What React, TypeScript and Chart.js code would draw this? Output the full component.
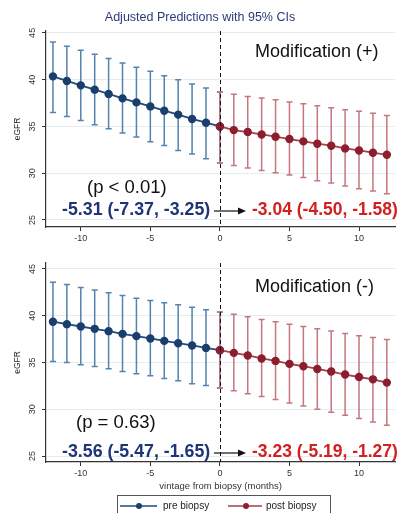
import React, { useEffect, useRef } from "react";
import { Chart, registerables } from "chart.js";

Chart.register(...registerables);

// ---------- data ----------
const preMonths = [-12, -11, -10, -9, -8, -7, -6, -5, -4, -3, -2, -1, 0];
const postMonths = [0, 1, 2, 3, 4, 5, 6, 7, 8, 9, 10, 11, 12];
const xTicks = [-10, -5, 0, 5, 10];
const yTicks = [25, 30, 35, 40, 45];

// Modification (+)
const topPre = [40.35, 39.86, 39.39, 38.93, 38.47, 38.0, 37.57, 37.14, 36.68, 36.26, 35.8, 35.4, 35.0];
const topPreLo = [36.5, 36.07, 35.64, 35.18, 34.75, 34.29, 33.87, 33.36, 32.97, 32.43, 32.05, 31.55, 31.09];
const topPreHi = [44.03, 43.56, 43.13, 42.71, 42.25, 41.79, 41.32, 40.89, 40.43, 40.0, 39.54, 39.11, 38.68];
const topPost = [35.0, 34.61, 34.4, 34.14, 33.9, 33.65, 33.4, 33.15, 32.94, 32.65, 32.43, 32.19, 31.97];
const topPostLo = [31.09, 30.83, 30.55, 30.29, 30.05, 29.8, 29.55, 29.19, 28.95, 28.63, 28.34, 28.09, 27.8];
const topPostHi = [38.68, 38.43, 38.21, 38.04, 37.86, 37.61, 37.43, 37.22, 37.0, 36.79, 36.61, 36.4, 36.18];

// Modification (-)
const botPre = [39.36, 39.1, 38.85, 38.6, 38.35, 38.06, 37.82, 37.57, 37.31, 37.06, 36.82, 36.56, 36.32];
const botPreLo = [35.1, 35.0, 34.75, 34.57, 34.33, 34.04, 33.79, 33.58, 33.29, 33.04, 32.72, 32.54, 32.26];
const botPreHi = [43.57, 43.35, 43.03, 42.74, 42.45, 42.17, 41.88, 41.64, 41.38, 41.17, 40.92, 40.63, 40.39];
const botPost = [36.32, 36.03, 35.75, 35.43, 35.17, 34.85, 34.6, 34.31, 34.03, 33.71, 33.45, 33.2, 32.85];
const botPostLo = [32.26, 31.97, 31.65, 31.36, 31.04, 30.68, 30.36, 30.0, 29.68, 29.36, 29.0, 28.64, 28.29];
const botPostHi = [40.39, 40.15, 39.9, 39.61, 39.35, 39.1, 38.86, 38.6, 38.36, 38.11, 37.86, 37.68, 37.47];

const seriesLabels = ["pre biopsy", "post biopsy"];
const titleText = "Adjusted Predictions with 95% CIs";
const xTitle = "vintage from biopsy (months)";
const yTitle = "eGFR";

// ---------- styles ----------
const FONT = "'Liberation Sans', Arial, sans-serif";
const BLUE_LINE = "#1f4b7c";
const BLUE_PT = "#1a3f6c";
const BLUE_ERR = "#5582ae";
const RED_LINE = "#a3404c";
const RED_PT = "#8c1e2e";
const RED_ERR = "#c6767f";
const NAVY_TXT = "#1e3479";
const RED_TXT = "#d21f1f";

type Annot = {
  heading: string;
  pText: string;
  preStat: string;
  postStat: string;
  headingY: number;
  pX: number;
  pY: number;
  statY: number;
};

const annTop: Annot = {
  heading: "Modification (+)",
  pText: "(p < 0.01)",
  preStat: "-5.31 (-7.37, -3.25)",
  postStat: "-3.04 (-4.50, -1.58)",
  headingY: 52,
  pX: 87,
  pY: 188,
  statY: 210,
};
const annBot: Annot = {
  heading: "Modification (-)",
  pText: "(p = 0.63)",
  preStat: "-3.56 (-5.47, -1.65)",
  postStat: "-3.23 (-5.19, -1.27)",
  headingY: 37,
  pX: 76,
  pY: 173,
  statY: 202,
};

const errorBarPlugin = {
  id: "errbars",
  beforeDatasetsDraw(chart: any) {
    const ctx = chart.ctx;
    const ys = chart.scales.y;
    const order = [...chart.data.datasets.keys()].reverse();
    order.forEach((di: number) => {
      const ds: any = chart.data.datasets[di];
      const meta = chart.getDatasetMeta(di);
      ctx.save();
      ctx.strokeStyle = ds.errColor;
      ctx.lineWidth = 1.5;
      meta.data.forEach((pt: any, i: number) => {
        const x = pt.x;
        const yl = ys.getPixelForValue(ds.errLo[i]);
        const yh = ys.getPixelForValue(ds.errHi[i]);
        ctx.beginPath();
        ctx.moveTo(x, yl);
        ctx.lineTo(x, yh);
        ctx.moveTo(x - 3, yl);
        ctx.lineTo(x + 3, yl);
        ctx.moveTo(x - 3, yh);
        ctx.lineTo(x + 3, yh);
        ctx.stroke();
      });
      ctx.restore();
    });
  },
  afterDatasetsDraw(chart: any) {
    const ctx = chart.ctx;
    const xs = chart.scales.x;
    const a = chart.chartArea;
    const x0 = Math.round(xs.getPixelForValue(0)) + 0.5;
    ctx.save();
    ctx.strokeStyle = "#111";
    ctx.lineWidth = 1;
    ctx.setLineDash([4, 3]);
    ctx.beginPath();
    ctx.moveTo(x0, a.top);
    ctx.lineTo(x0, a.bottom);
    ctx.stroke();
    ctx.restore();
  },
  afterDraw(chart: any, _args: any, opts: any) {
    const ctx = chart.ctx;
    const ys = chart.scales.y;
    const a = chart.chartArea;
    const ann: Annot = opts.ann;
    ctx.save();
    // y tick labels (rotated)
    ctx.font = `9px ${FONT}`;
    ctx.fillStyle = "#333";
    ctx.textAlign = "center";
    ctx.textBaseline = "middle";
    ys.ticks.forEach((t: any) => {
      const py = ys.getPixelForValue(t.value);
      ctx.save();
      ctx.translate(a.left - 13, py);
      ctx.rotate(-Math.PI / 2);
      ctx.fillText(String(t.value), 0, 0);
      ctx.restore();
    });
    // annotations
    ctx.textAlign = "left";
    ctx.fillStyle = "#111";
    ctx.font = `18px ${FONT}`;
    ctx.fillText(ann.heading, 255, ann.headingY);
    ctx.font = `18.5px ${FONT}`;
    ctx.fillText(ann.pText, ann.pX, ann.pY);
    ctx.font = `bold 17.8px ${FONT}`;
    ctx.fillStyle = NAVY_TXT;
    ctx.fillText(ann.preStat, 62, ann.statY);
    ctx.font = `bold 17.5px ${FONT}`;
    ctx.fillStyle = RED_TXT;
    ctx.fillText(ann.postStat, 252, ann.statY);
    // arrow
    const ay = ann.statY + 1;
    ctx.strokeStyle = "#111";
    ctx.fillStyle = "#111";
    ctx.lineWidth = 1.2;
    ctx.beginPath();
    ctx.moveTo(214, ay);
    ctx.lineTo(240, ay);
    ctx.stroke();
    ctx.beginPath();
    ctx.moveTo(246, ay);
    ctx.lineTo(238, ay - 3.5);
    ctx.lineTo(238, ay + 3.5);
    ctx.closePath();
    ctx.fill();

    if (opts.showLegend) {
      const cx = (a.left + a.right) / 2;
      ctx.font = `9.5px ${FONT}`;
      ctx.fillStyle = "#333";
      ctx.textAlign = "center";
      ctx.fillText(xTitle, cx, a.bottom + 24);
      // legend box
      const ly = a.bottom + 44;
      ctx.strokeStyle = "#555";
      ctx.lineWidth = 1;
      ctx.strokeRect(117.5, a.bottom + 33.5, 213, 20);
      const items = [
        { x1: 120, x2: 157, dot: 139, tx: 163, line: BLUE_LINE, pt: BLUE_PT, label: seriesLabels[0] },
        { x1: 228, x2: 262, dot: 246, tx: 266, line: RED_LINE, pt: RED_PT, label: seriesLabels[1] },
      ];
      items.forEach((it) => {
        ctx.strokeStyle = it.line;
        ctx.lineWidth = 1.3;
        ctx.beginPath();
        ctx.moveTo(it.x1, ly);
        ctx.lineTo(it.x2, ly);
        ctx.stroke();
        ctx.fillStyle = it.pt;
        ctx.beginPath();
        ctx.arc(it.dot, ly, 3, 0, Math.PI * 2);
        ctx.fill();
        ctx.fillStyle = "#222";
        ctx.textAlign = "left";
        ctx.font = `10px ${FONT}`;
        ctx.fillText(it.label, it.tx, ly);
      });
    }
    ctx.restore();
  },
};

type PanelProps = {
  top: number;
  height: number;
  pre: number[];
  preLo: number[];
  preHi: number[];
  post: number[];
  postLo: number[];
  postHi: number[];
  yMin: number;
  yMax: number;
  padTop: number;
  xAxisH: number;
  showTitle: boolean;
  showLegend: boolean;
  ann: Annot;
};

function Panel(p: PanelProps) {
  const ref = useRef<HTMLCanvasElement>(null);
  useEffect(() => {
    const chart = new Chart(ref.current as HTMLCanvasElement, {
      type: "line",
      data: {
        datasets: [
          {
            label: seriesLabels[1],
            data: postMonths.map((x, i) => ({ x, y: p.post[i] })),
            errLo: p.postLo,
            errHi: p.postHi,
            errColor: RED_ERR,
            borderColor: RED_LINE,
            backgroundColor: RED_PT,
            pointBackgroundColor: RED_PT,
            pointBorderColor: RED_PT,
            pointRadius: 3.3,
            borderWidth: 1.8,
            tension: 0,
          } as any,
          {
            label: seriesLabels[0],
            data: preMonths.map((x, i) => ({ x, y: p.pre[i] })),
            errLo: p.preLo,
            errHi: p.preHi,
            errColor: BLUE_ERR,
            borderColor: BLUE_LINE,
            backgroundColor: BLUE_PT,
            pointBackgroundColor: BLUE_PT,
            pointBorderColor: BLUE_PT,
            pointRadius: 3.3,
            borderWidth: 1.8,
            tension: 0,
          } as any,
        ],
      },
      options: {
        responsive: false,
        animation: false,
        layout: { padding: { top: p.padTop, right: 1, left: 0, bottom: 0 } },
        plugins: {
          legend: { display: false },
          tooltip: { enabled: false },
          title: {
            display: p.showTitle,
            text: titleText,
            color: "#2b3a7a",
            font: { size: 12.5, weight: "normal", family: FONT },
            padding: { top: 10, bottom: 6 },
          },
          errbars: { ann: p.ann, showLegend: p.showLegend },
        } as any,
        scales: {
          x: {
            type: "linear",
            min: -12.5,
            max: 12.6,
            afterBuildTicks: (s: any) => {
              s.ticks = xTicks.map((v) => ({ value: v }));
            },
            afterFit: (s: any) => {
              s.height = p.xAxisH;
            },
            grid: { drawOnChartArea: false, drawTicks: true, tickLength: 4, tickColor: "#333" },
            border: { color: "#333", width: 1.2 },
            ticks: { color: "#333", font: { size: 9, family: FONT }, padding: 2, maxRotation: 0 },
          },
          y: {
            type: "linear",
            min: p.yMin,
            max: p.yMax,
            afterBuildTicks: (s: any) => {
              s.ticks = yTicks.map((v) => ({ value: v }));
            },
            afterFit: (s: any) => {
              s.width = 46;
            },
            grid: { color: "#e3ecf0", lineWidth: 1, drawTicks: true, tickLength: 4, tickColor: "#333" },
            border: { color: "#333", width: 1.2 },
            ticks: { display: false },
            title: {
              display: true,
              text: yTitle,
              color: "#222",
              font: { size: 8.5, family: FONT },
              padding: { top: 13, bottom: 0 },
            },
          },
        },
      } as any,
      plugins: [errorBarPlugin],
    });
    return () => chart.destroy();
  }, []);
  return (
    <canvas
      ref={ref}
      width={401}
      height={p.height}
      style={{ position: "absolute", left: 0, top: p.top, width: 401, height: p.height }}
    />
  );
}

export default function App() {
  return (
    <div style={{ position: "fixed", left: 0, top: 0, width: 401, height: 513, background: "#fff", overflow: "hidden" }}>
      <Panel
        top={0}
        height={246}
        pre={topPre}
        preLo={topPreLo}
        preHi={topPreHi}
        post={topPost}
        postLo={topPostLo}
        postHi={topPostHi}
        yMin={24.25}
        yMax={45.2}
        padTop={0}
        xAxisH={19}
        showTitle={true}
        showLegend={false}
        ann={annTop}
      />
      <Panel
        top={250}
        height={263}
        pre={botPre}
        preLo={botPreLo}
        preHi={botPreHi}
        post={botPost}
        postLo={botPostLo}
        postHi={botPostHi}
        yMin={24.36}
        yMax={45.64}
        padTop={13}
        xAxisH={51}
        showTitle={false}
        showLegend={true}
        ann={annBot}
      />
    </div>
  );
}
